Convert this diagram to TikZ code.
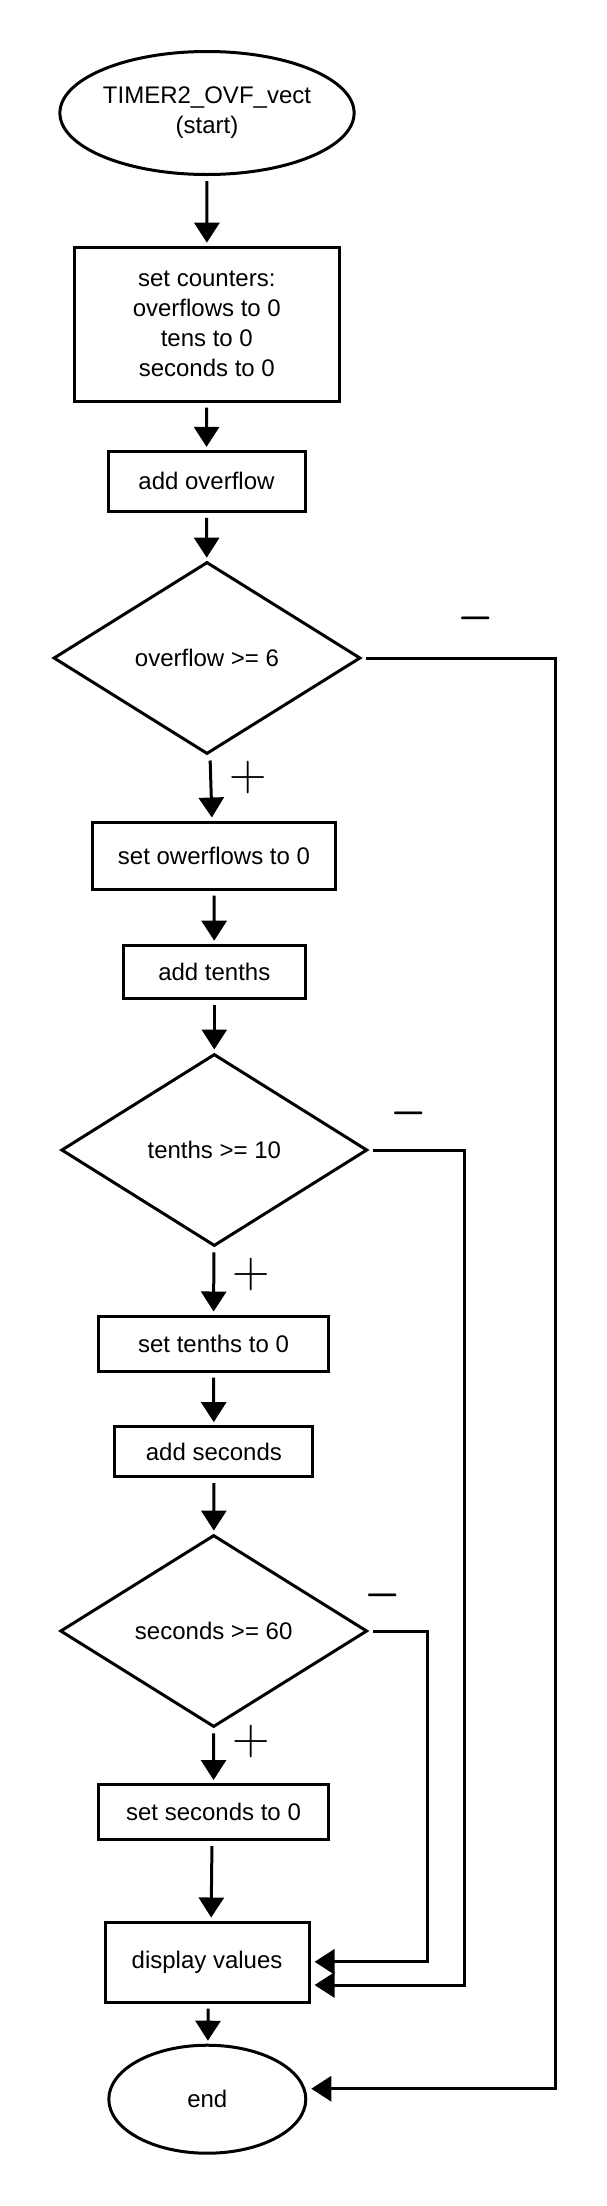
\documentclass[tikz,border=0pt]{standalone}
\usepackage{graphicx}
\usepackage{fontspec}
\setmainfont{Liberation Sans}
\newfontfamily\lmsign{Latin Modern Roman}
\usetikzlibrary{shapes.geometric,arrows.meta}
\newcommand\diagfont{\fontsize{24}{30}\selectfont}
\tikzset{
  base/.style={draw, line width=3pt, font=\diagfont, inner sep=0pt, align=center},
  proc/.style={base, rectangle},
  term/.style={base, ellipse},
  dec/.style={base, diamond},
  arr/.style={line width=3pt, -{Triangle[width=25pt,length=20pt]}, shorten <=5pt, shorten >=3pt},
  sideline/.style={line width=3pt, -{Triangle[width=25pt,length=20pt]}, shorten >=4pt},
  plus/.style={font=\lmsign\fontsize{52}{52}\selectfont, inner sep=0pt},
  minus/.style={font=\lmsign\fontsize{45}{45}\selectfont, inner sep=0pt}
}
\begin{document}
\begin{tikzpicture}[x=1pt,y=-1pt]
\fill[white] (0,0) rectangle (607,2206);
\useasboundingbox (0,0) rectangle (607,2206);

\node[term, minimum width=264pt, minimum height=123pt] (start) at (207,113) {TIMER2\_OVF\_vect\\(start)};
\node[proc, minimum width=265pt, minimum height=154pt] (b1) at (206.8,324.2) {set counters:\\overflows to 0\\tens to 0\\seconds to 0};
\node[proc, minimum width=197pt, minimum height=60pt] (b2) at (206.5,481.4) {add overflow};
\node[dec, minimum width=307pt, minimum height=192pt] (d1) at (207,658) {overflow >= 6};
\node[proc, minimum width=243pt, minimum height=67pt] (b3) at (214,855.5) {set owerflows to 0};
\node[proc, minimum width=182pt, minimum height=53pt] (b4) at (214.3,971.7) {add tenths};
\node[dec, minimum width=306pt, minimum height=192pt] (d2) at (214.3,1150) {tenths >= 10};
\node[proc, minimum width=230pt, minimum height=55pt] (b5) at (213.5,1343.5) {set tenths to 0};
\node[proc, minimum width=198pt, minimum height=50pt] (b6) at (213.9,1451.6) {add seconds};
\node[dec, minimum width=307pt, minimum height=192pt] (d3) at (213.7,1631) {seconds >= 60};
\node[proc, minimum width=230pt, minimum height=55pt] (b7) at (213.5,1812) {set seconds to 0};
\node[proc, minimum width=204pt, minimum height=80pt] (b8) at (207.1,1962) {display values};
\node[term, minimum width=197pt, minimum height=108pt] (end) at (207.3,2099.2) {end};

% labels
\node[minus] (m1) at (476,627) {\scalebox{1}[1.7]{−}};
\node[minus] (m2) at (409,1122.6) {\scalebox{1}[1.7]{−}};
\node[minus] (m3) at (382.7,1604.6) {\scalebox{1}[1.7]{−}};
\node[plus] (p1) at (247.8,778) {+};
\node[plus] (p2) at (250.9,1274.3) {+};
\node[plus] (p3) at (250.9,1741.5) {+};

% main flow
\draw[arr] (start) -- (b1);
\draw[arr] (b1) -- (b2);
\draw[arr] (b2) -- (d1);
\draw[arr] ([xshift=3pt]d1.south) -- ([xshift=-2pt]b3.north);
\draw[arr] (b3) -- (b4);
\draw[arr] (b4) -- (d2);
\draw[arr] (d2) -- (b5);
\draw[arr] (b5) -- (b6);
\draw[arr] (b6) -- (d3);
\draw[arr] (d3) -- (b7);
\draw[arr] ([xshift=-1.5pt]b7.south) -- ([xshift=4pt]b8.north);
\draw[arr] ([xshift=1pt]b8.south) -- ([xshift=0.6pt]end.north);

% side routes
\coordinate (r1b) at (555.5,2088.7);
\coordinate (r2b) at (464.6,1985);
\coordinate (r3b) at (427.8,1961.8);
\draw[sideline] ([xshift=4pt]d1.east) -- (d1.east -| r1b) -- (r1b) -- (end.east |- r1b);
\draw[sideline] ([xshift=4pt]d2.east) -- (d2.east -| r2b) -- (r2b) -- (b8.east |- r2b);
\draw[sideline] ([xshift=4pt]d3.east) -- (d3.east -| r3b) -- (r3b) -- (b8.east |- r3b);
\end{tikzpicture}
\end{document}
